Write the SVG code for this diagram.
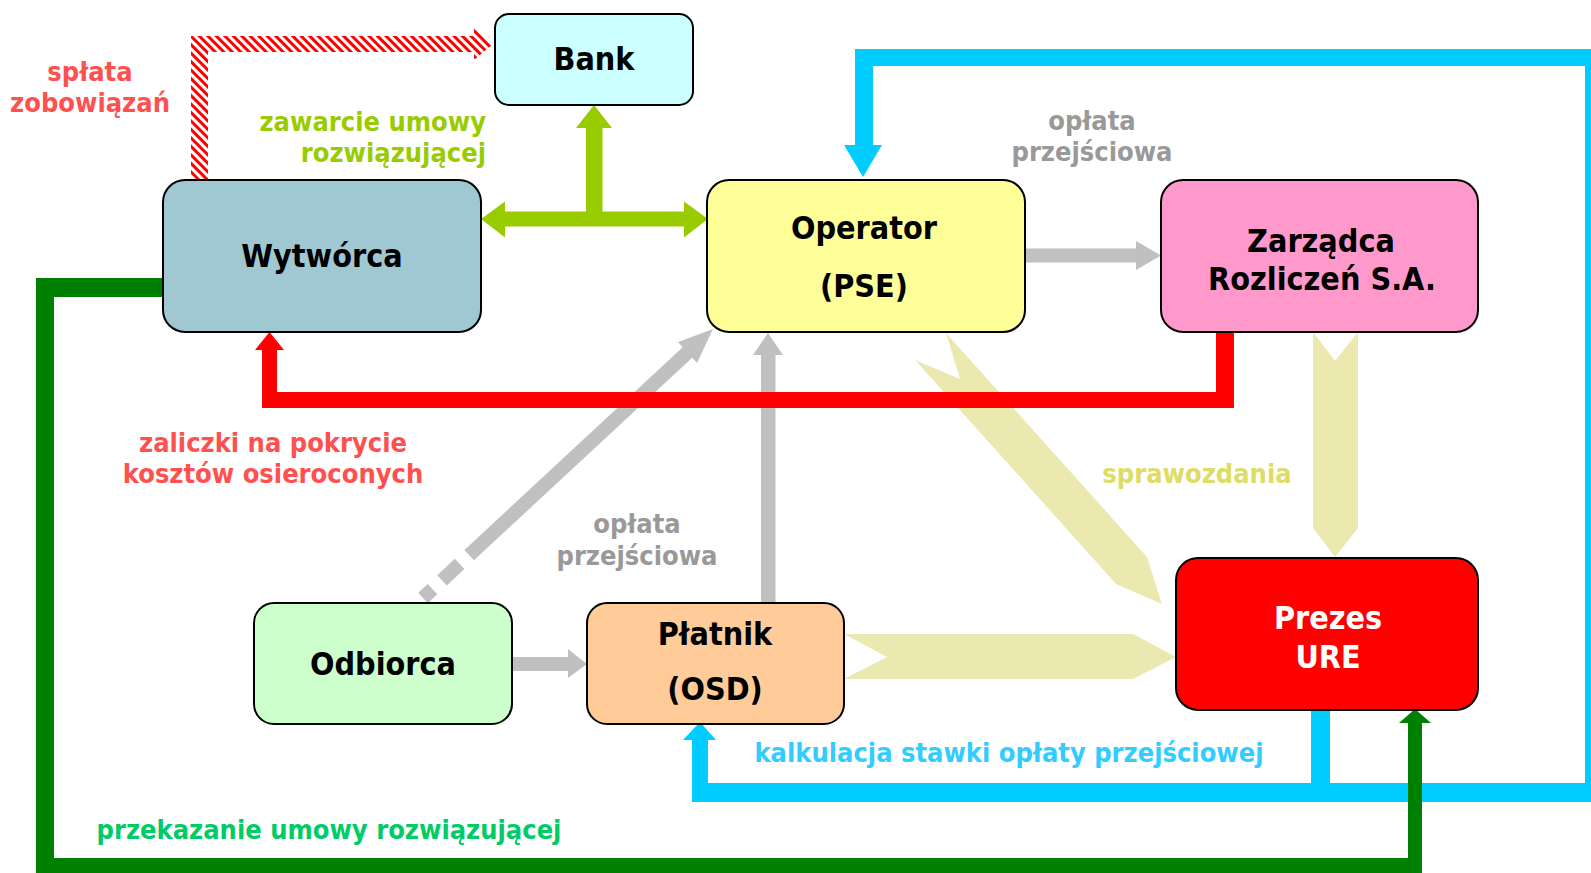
<svg xmlns="http://www.w3.org/2000/svg" width="1591" height="873" viewBox="0 0 1591 873">
<style>
.n{stroke:#000;stroke-width:2}
.t{font-family:"DejaVu Sans Condensed","DejaVu Sans",sans-serif;font-stretch:condensed;font-weight:bold;text-anchor:middle}
.nt{font-size:32px;fill:#000}
.lb{font-size:27px}
.gray{fill:#C0C0C0}
.yel{fill:#ECE9B0}
.cy{fill:#00CCFF}
.dg{fill:#008000}
.rd{fill:#FF0000}
.lg{fill:#99CC00}
</style>
<defs>
<pattern id="hatch" width="6" height="6" patternUnits="userSpaceOnUse" patternTransform="rotate(-45)">
<rect width="6" height="6" fill="#fff"/>
<rect width="3" height="6" fill="#FF0000"/>
</pattern>
</defs>
<rect width="1591" height="873" fill="#fff"/>
<g id="connectors">
<path d="M191,180 V36 H474 V28 L493,44 L474,60 V52 H208 V180 Z" fill="url(#hatch)"/>
<rect class="lg" x="504" y="211.5" width="181" height="15"/>
<polygon class="lg" points="481,219 505,201.5 505,237.5"/>
<polygon class="lg" points="708,219 684,201.5 684,237.5"/>
<rect class="lg" x="586" y="127" width="16.5" height="86"/>
<polygon class="lg" points="576,128 612,128 594,105"/>
<polygon class="yel" points="946,333 1147,557 1162,604 1116,584 915,360 960,379"/>
<polygon class="yel" points="1313,332 1335,361 1358,332 1358,528 1335,557 1313,528"/>
<polygon class="yel" points="844,634 1133,634 1176,657 1133,679 844,679 887,657"/>
<rect class="gray" x="1025" y="248.5" width="112" height="14"/>
<polygon class="gray" points="1136,241 1136,270 1161,255.5"/>
<rect class="gray" x="512" y="657" width="57" height="14"/>
<polygon class="gray" points="568,649 568,678 587,664"/>
<rect class="gray" x="761" y="354" width="14.5" height="249"/>
<polygon class="gray" points="753,355 783,355 768,333"/>
<line x1="423" y1="598" x2="688" y2="352" stroke="#C0C0C0" stroke-width="14" stroke-dasharray="13 13 24 13 400"/>
<polygon class="gray" points="713,329 678,342 697,363"/>
<rect class="rd" x="1216" y="332" width="18" height="76"/>
<rect class="rd" x="262" y="392" width="972" height="16"/>
<rect class="rd" x="262" y="349" width="15" height="59"/>
<polygon class="rd" points="255,350 284,350 269.5,332"/>
<rect class="cy" x="855" y="49" width="18" height="97"/>
<polygon class="cy" points="844,145 882,145 863,177"/>
<rect class="cy" x="855" y="49" width="748" height="17"/>
<rect class="cy" x="1585" y="49" width="18" height="753"/>
<rect class="cy" x="692" y="783" width="911" height="19"/>
<rect class="cy" x="1311" y="711" width="19" height="72"/>
<rect class="cy" x="692" y="739" width="16" height="63"/>
<polygon class="cy" points="683,740 716,740 700,722"/>
<rect class="dg" x="36" y="278" width="128" height="19"/>
<rect class="dg" x="36" y="278" width="18" height="600"/>
<rect class="dg" x="36" y="858" width="1386" height="20"/>
<rect class="dg" x="1408" y="722" width="14" height="156"/>
<polygon class="dg" points="1399,723 1431,723 1415,709"/>
</g>
<g id="bank"><rect class="n" x="495" y="14" width="198" height="91" rx="14" fill="#CCFFFF"/><text class="t nt" x="594" y="70">Bank</text></g>
<g id="wytworca"><rect class="n" x="163" y="180" width="318" height="152" rx="22" fill="#A0C8D2"/><text class="t nt" x="322" y="267">Wytwórca</text></g>
<g id="operator"><rect class="n" x="707" y="180" width="318" height="152" rx="22" fill="#FFFF99"/><text class="t nt" x="864" y="239">Operator</text><text class="t nt" x="864" y="297">(PSE)</text></g>
<g id="zarzadca"><rect class="n" x="1161" y="180" width="317" height="152" rx="22" fill="#FF99CC"/><text class="t nt" x="1321" y="252">Zarządca</text><text class="t nt" x="1322" y="290">Rozliczeń S.A.</text></g>
<g id="prezes"><rect class="n" x="1176" y="558" width="302" height="152" rx="22" fill="#FF0000"/><text class="t nt" x="1328" y="629" style="fill:#fff">Prezes</text><text class="t nt" x="1328" y="668" style="fill:#fff">URE</text></g>
<g id="odbiorca"><rect class="n" x="254" y="603" width="258" height="121" rx="20" fill="#CCFFCC"/><text class="t nt" x="383" y="675">Odbiorca</text></g>
<g id="platnik"><rect class="n" x="587" y="603" width="257" height="121" rx="20" fill="#FFCC99"/><text class="t nt" x="715" y="645">Płatnik</text><text class="t nt" x="715" y="700">(OSD)</text></g>
<g id="labels">
<text class="t lb" x="90" y="81" fill="#FF5050">spłata</text>
<text class="t lb" x="90" y="112" fill="#FF5050">zobowiązań</text>
<text class="t lb" x="486" y="131" fill="#99CC00" style="text-anchor:end">zawarcie umowy</text>
<text class="t lb" x="486" y="162" fill="#99CC00" style="text-anchor:end">rozwiązującej</text>
<text class="t lb" x="1092" y="130" fill="#999999">opłata</text>
<text class="t lb" x="1092" y="161" fill="#999999">przejściowa</text>
<text class="t lb" x="273" y="452" fill="#FF5050">zaliczki na pokrycie</text>
<text class="t lb" x="273" y="483" fill="#FF5050">kosztów osieroconych</text>
<text class="t lb" x="637" y="533" fill="#999999">opłata</text>
<text class="t lb" x="637" y="565" fill="#999999">przejściowa</text>
<text class="t lb" x="1197" y="483" fill="#DDDD66">sprawozdania</text>
<text class="t lb" x="1009" y="762" fill="#33CCFF">kalkulacja stawki opłaty przejściowej</text>
<text class="t lb" x="329" y="839" fill="#00CC66">przekazanie umowy rozwiązującej</text>
</g>
</svg>
